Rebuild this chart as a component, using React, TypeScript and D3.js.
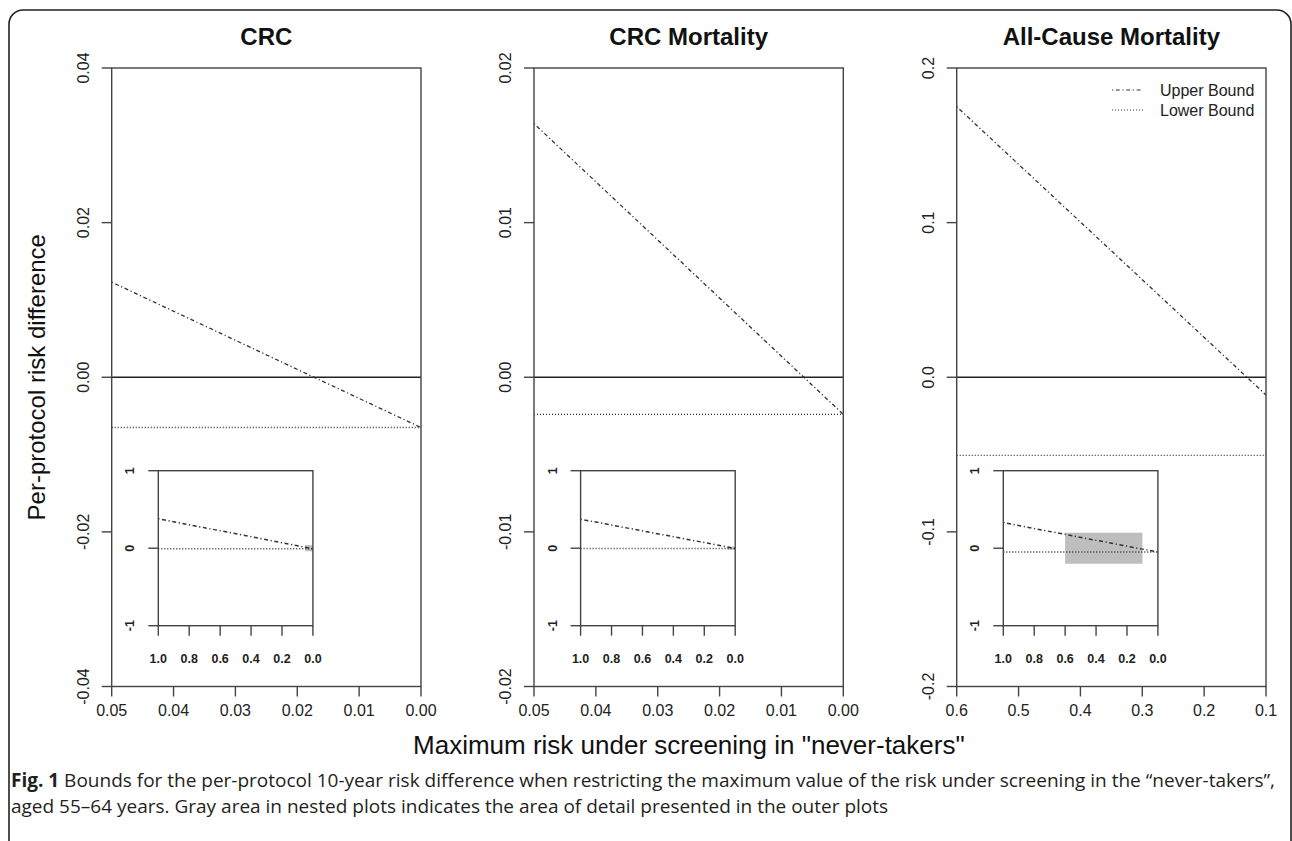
import React from "react";
import * as d3 from "d3";

// ---------- data ----------
const panelTitles = ["CRC", "CRC Mortality", "All-Cause Mortality"];

const xDomains: [number, number][] = [
  [0.05, 0.0],
  [0.05, 0.0],
  [0.6, 0.1],
];
const xTickValues: number[][] = [
  [0.05, 0.04, 0.03, 0.02, 0.01, 0.0],
  [0.05, 0.04, 0.03, 0.02, 0.01, 0.0],
  [0.6, 0.5, 0.4, 0.3, 0.2, 0.1],
];
const xTickLabels: string[][] = [
  ["0.05", "0.04", "0.03", "0.02", "0.01", "0.00"],
  ["0.05", "0.04", "0.03", "0.02", "0.01", "0.00"],
  ["0.6", "0.5", "0.4", "0.3", "0.2", "0.1"],
];

const yDomains: [number, number][] = [
  [-0.04, 0.04],
  [-0.02, 0.02],
  [-0.2, 0.2],
];
const yTickValues: number[][] = [
  [-0.04, -0.02, 0, 0.02, 0.04],
  [-0.02, -0.01, 0, 0.01, 0.02],
  [-0.2, -0.1, 0, 0.1, 0.2],
];
const yTickLabels: string[][] = [
  ["-0.04", "-0.02", "0.00", "0.02", "0.04"],
  ["-0.02", "-0.01", "0.00", "0.01", "0.02"],
  ["-0.2", "-0.1", "0.0", "0.1", "0.2"],
];

// outer plots: upper & lower bound
const upperX: number[][] = [
  [0.05, 0.0],
  [0.05, 0.0],
  [0.6, 0.1],
];
const upperY: number[][] = [
  [0.0123, -0.0065],
  [0.0164, -0.0024],
  [0.175, -0.0115],
];
const lowerX: number[][] = [
  [0.05, 0.0],
  [0.05, 0.0],
  [0.6, 0.1],
];
const lowerY: number[][] = [
  [-0.0065, -0.0065],
  [-0.0024, -0.0024],
  [-0.0505, -0.0505],
];

// nested plots
const insetXTicks = [1.0, 0.8, 0.6, 0.4, 0.2, 0.0];
const insetXTickLabels = ["1.0", "0.8", "0.6", "0.4", "0.2", "0.0"];
const insetYTicks = [-1, 0, 1];
const insetYTickLabels = ["-1", "0", "1"];
const insetUpperX: number[][] = [
  [1.0, 0.0],
  [1.0, 0.0],
  [1.0, 0.0],
];
const insetUpperY: number[][] = [
  [0.38, -0.0065],
  [0.374, -0.0024],
  [0.33, -0.05],
];
const insetLowerY: number[] = [-0.0065, -0.0024, -0.05];
// gray detail area [x0, x1, y0, y1]
const detailAreas: number[][] = [
  [0.05, 0.0, -0.04, 0.04],
  [0.05, 0.0, -0.02, 0.02],
  [0.6, 0.1, -0.2, 0.2],
];

const legendLabels = ["Upper Bound", "Lower Bound"];

// ---------- layout ----------
const W = 1292;
const H = 841;
const panelLefts = [111.7, 534, 956.7];
const panelW = 309.3;
const plotTop = 68;
const plotBottom = 686.5;
const insetOffX = 46.6;
const insetW = 154.6;
const insetTop = 470.7;
const insetBottom = 625.7;

const FONT = "'Liberation Sans', Arial, Helvetica, sans-serif";
const CAP_FONT = "'Open Sans', 'Noto Sans', sans-serif";
const UPPER_DASH = "1.2 2.6 4 2.6";
const LOWER_DASH = "1 2";
const LINE_COL = "#333";
const AXIS_COL = "#444";

function Panel({ i }: { i: number }) {
  const left = panelLefts[i];
  const right = left + panelW;
  const x = d3.scaleLinear().domain(xDomains[i]).range([left, right]);
  const y = d3.scaleLinear().domain(yDomains[i]).range([plotBottom, plotTop]);
  const line = d3
    .line<[number, number]>()
    .x((d) => x(d[0]))
    .y((d) => y(d[1]));

  const up = upperX[i].map((v, k) => [v, upperY[i][k]] as [number, number]);
  const lo = lowerX[i].map((v, k) => [v, lowerY[i][k]] as [number, number]);

  // inset
  const iL = left + insetOffX;
  const iR = iL + insetW;
  const ix = d3.scaleLinear().domain([1, 0]).range([iL, iR]);
  const iy = d3.scaleLinear().domain([-1, 1]).range([insetBottom, insetTop]);
  const iline = d3
    .line<[number, number]>()
    .x((d) => ix(d[0]))
    .y((d) => iy(d[1]));
  const iup = insetUpperX[i].map((v, k) => [v, insetUpperY[i][k]] as [number, number]);
  const ilo: [number, number][] = [
    [1, insetLowerY[i]],
    [0, insetLowerY[i]],
  ];
  const da = detailAreas[i];

  return (
    <g>
      {/* title */}
      <text
        x={(left + right) / 2}
        y={45}
        textAnchor="middle"
        fontFamily={FONT}
        fontWeight="bold"
        fontSize={24}
        fill="#111"
      >
        {panelTitles[i]}
      </text>

      {/* zero line */}
      <line x1={left} x2={right} y1={y(0)} y2={y(0)} stroke="#222" strokeWidth={1.3} />

      {/* bounds */}
      <path d={line(up) || ""} fill="none" stroke={LINE_COL} strokeWidth={1.3} strokeDasharray={UPPER_DASH} />
      <path d={line(lo) || ""} fill="none" stroke={LINE_COL} strokeWidth={1.3} strokeDasharray={LOWER_DASH} />

      {/* box */}
      <rect x={left} y={plotTop} width={panelW} height={plotBottom - plotTop} fill="none" stroke={AXIS_COL} strokeWidth={1.4} />

      {/* y axis */}
      {yTickValues[i].map((v, k) => (
        <g key={"y" + k}>
          <line x1={left - 10} x2={left} y1={y(v)} y2={y(v)} stroke={AXIS_COL} strokeWidth={1.4} />
          <text
            transform={`translate(${left - 23},${y(v)}) rotate(-90)`}
            textAnchor="middle"
            fontFamily={FONT}
            fontSize={16}
            fill="#222"
          >
            {yTickLabels[i][k]}
          </text>
        </g>
      ))}

      {/* x axis */}
      {xTickValues[i].map((v, k) => (
        <g key={"x" + k}>
          <line x1={x(v)} x2={x(v)} y1={plotBottom} y2={plotBottom + 10} stroke={AXIS_COL} strokeWidth={1.4} />
          <text x={x(v)} y={plotBottom + 29} textAnchor="middle" fontFamily={FONT} fontSize={16} fill="#222">
            {xTickLabels[i][k]}
          </text>
        </g>
      ))}

      {/* inset */}
      <rect
        x={ix(da[0])}
        y={iy(da[3])}
        width={ix(da[1]) - ix(da[0])}
        height={iy(da[2]) - iy(da[3])}
        fill="#bebebe"
      />
      <path d={iline(iup) || ""} fill="none" stroke={LINE_COL} strokeWidth={1.5} strokeDasharray={UPPER_DASH} />
      <path d={iline(ilo) || ""} fill="none" stroke={LINE_COL} strokeWidth={1.5} strokeDasharray={LOWER_DASH} />
      <rect x={iL} y={insetTop} width={insetW} height={insetBottom - insetTop} fill="none" stroke={AXIS_COL} strokeWidth={1.4} />
      {insetYTicks.map((v, k) => (
        <g key={"iy" + k}>
          <line x1={iL - 10} x2={iL} y1={iy(v)} y2={iy(v)} stroke={AXIS_COL} strokeWidth={1.4} />
          <text
            transform={`translate(${iL - 24},${iy(v)}) rotate(-90)`}
            textAnchor="middle"
            fontFamily={FONT}
            fontWeight="bold"
            fontSize={12.5}
            fill="#222"
          >
            {insetYTickLabels[k]}
          </text>
        </g>
      ))}
      {insetXTicks.map((v, k) => (
        <g key={"ix" + k}>
          <line x1={ix(v)} x2={ix(v)} y1={insetBottom} y2={insetBottom + 10} stroke={AXIS_COL} strokeWidth={1.4} />
          <text x={ix(v)} y={insetBottom + 37} textAnchor="middle" fontFamily={FONT} fontWeight="bold" fontSize={12.5} fill="#222">
            {insetXTickLabels[k]}
          </text>
        </g>
      ))}
    </g>
  );
}

export default function App() {
  const r = 14;
  const fx0 = 9;
  const fy0 = 10;
  const fx1 = 1291;
  const framePath = `M${fx0},${H + 5} L${fx0},${fy0 + r} A${r},${r} 0 0 1 ${fx0 + r},${fy0} L${fx1 - r},${fy0} A${r},${r} 0 0 1 ${fx1},${fy0 + r} L${fx1},${H + 5}`;
  const midX = (panelLefts[0] + panelLefts[2] + panelW) / 2;
  const legX0 = 1112;
  const legX1 = 1143;
  const legY = [90, 110];
  return (
    <svg
      width={W}
      height={H}
      viewBox={`0 0 ${W} ${H}`}
      style={{ position: "absolute", left: 0, top: 0, background: "#fff" }}
    >
      <rect x={0} y={0} width={W} height={H} fill="#fff" />
      <path d={framePath} fill="none" stroke="#222" strokeWidth={1.6} />

      {[0, 1, 2].map((i) => (
        <Panel key={i} i={i} />
      ))}

      {/* legend */}
      {legendLabels.map((lab, k) => (
        <g key={lab}>
          <line
            x1={legX0}
            x2={legX1}
            y1={legY[k]}
            y2={legY[k]}
            stroke={LINE_COL}
            strokeWidth={1.2}
            strokeDasharray={k === 0 ? UPPER_DASH : LOWER_DASH}
          />
          <text x={1160} y={legY[k] + 6} fontFamily={FONT} fontSize={16} fill="#222">
            {lab}
          </text>
        </g>
      ))}

      {/* axis titles */}
      <text
        transform={`translate(45,${(plotTop + plotBottom) / 2}) rotate(-90)`}
        textAnchor="middle"
        fontFamily={FONT}
        fontSize={24}
        fill="#111"
      >
        Per-protocol risk difference
      </text>
      <text x={midX} y={754} textAnchor="middle" fontFamily={FONT} fontSize={26} fill="#111">
        Maximum risk under screening in "never-takers"
      </text>

      {/* caption */}
      <text x={11} y={787} fontFamily={CAP_FONT} fontSize={19} fill="#231f20">
        <tspan fontWeight="bold">Fig. 1</tspan>
        <tspan> Bounds for the per-protocol 10-year risk difference when restricting the maximum value of the risk under screening in the “never-takers”,</tspan>
      </text>
      <text x={11} y={813} fontFamily={CAP_FONT} fontSize={19} fill="#231f20">
        aged 55–64 years. Gray area in nested plots indicates the area of detail presented in the outer plots
      </text>
    </svg>
  );
}
